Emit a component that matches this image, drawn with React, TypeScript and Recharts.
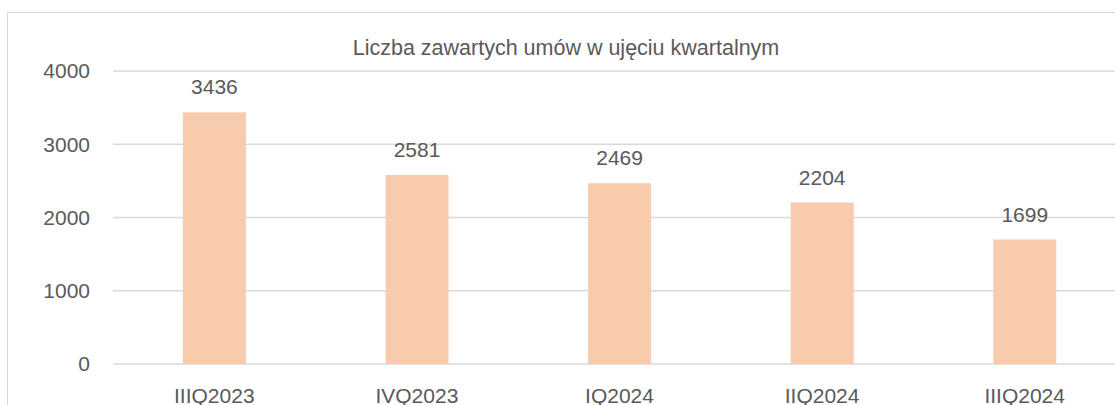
import React from 'react'
import { BarChart, Bar, XAxis, YAxis, CartesianGrid, LabelList } from 'recharts'

const quarters = ['IIIQ2023', 'IVQ2023', 'IQ2024', 'IIQ2024', 'IIIQ2024']
const contracts = [3436, 2581, 2469, 2204, 1699]
const yTicks = [0, 1000, 2000, 3000, 4000]

const data = quarters.map((q, i) => ({ q, v: contracts[i] }))

const font = '"Liberation Sans", Arial, sans-serif'
const textColor = '#595959'

export default function App() {
  return (
    <div style={{ position: 'fixed', left: 0, top: 0, width: 1115, height: 405, overflow: 'hidden', background: '#fff', fontFamily: font }}>
      <div style={{ position: 'absolute', left: 7, top: 12, width: 1200, height: 500, border: '1px solid #d9d9d9' }} />
      <div style={{ position: 'absolute', left: 266, width: 600, top: 33, textAlign: 'center', fontSize: 21.5, color: textColor, lineHeight: '30px' }}>
        Liczba zawartych umów w ujęciu kwartalnym
      </div>
      <div style={{ position: 'absolute', left: 0, top: 0 }}>
        <BarChart width={1140} height={405} data={data} margin={{ top: 71, right: 14, bottom: 0, left: 0 }} barCategoryGap="34.5%">
          <CartesianGrid vertical={false} stroke="#d9d9d9" strokeWidth={1.5} />
          <XAxis dataKey="q" height={41} axisLine={false} tickLine={false} tickSize={0} tickMargin={24}
            tick={{ fill: textColor, fontSize: 21, fontFamily: font }} />
          <YAxis width={113} domain={[0, 4000]} ticks={yTicks} axisLine={false} tickLine={false} tickSize={0} tickMargin={23}
            tick={{ fill: textColor, fontSize: 21, fontFamily: font }} />
          <Bar dataKey="v" fill="#f8cbad" isAnimationActive={false}>
            <LabelList dataKey="v" position="top" offset={18} fill={textColor} fontSize={21} fontFamily={font} />
          </Bar>
        </BarChart>
      </div>
    </div>
  )
}
